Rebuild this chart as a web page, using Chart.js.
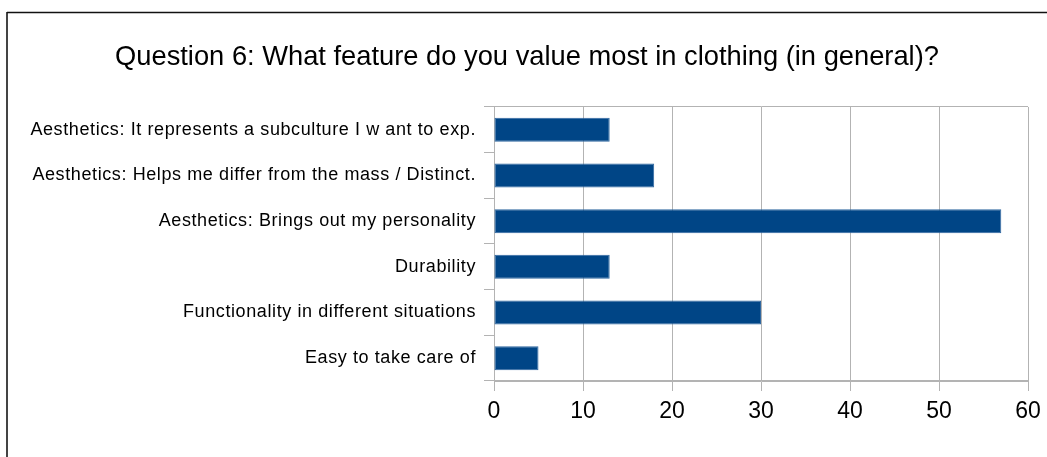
<!DOCTYPE html>
<html>
<head>
<meta charset="utf-8">
<script src="https://cdn.jsdelivr.net/npm/chart.js@4.4.1/dist/chart.umd.min.js"></script>
<style>
  html, body { margin: 0; padding: 0; background: #fff; }
  canvas { display: block; }
</style>
</head>
<body>
<canvas id="chart" width="1047" height="457"></canvas>
<script>
const categories = [
  'Aesthetics: It represents a subculture I w ant to exp.',
  'Aesthetics: Helps me differ from the mass / Distinct.',
  'Aesthetics: Brings out my personality',
  'Durability',
  'Functionality in different situations',
  'Easy to take care of'
]
const counts = [13, 18, 57, 13, 30, 5]
const xTicks = [0, 10, 20, 30, 40, 50, 60]

const FONT = '"Liberation Sans", Arial, sans-serif'
const GRID = '#b3b3b3'

// thin frame on the left and top edges of the page
const frame = {
  id: 'frame',
  afterDraw(chart) {
    const c = chart.ctx
    c.save()
    c.strokeStyle = '#444'
    c.lineWidth = 2
    c.beginPath()
    c.moveTo(7, 12)
    c.lineTo(7, chart.height)
    c.stroke()
    c.strokeStyle = '#111'
    c.lineWidth = 1.5
    c.beginPath()
    c.moveTo(7, 12.5)
    c.lineTo(chart.width, 12.5)
    c.stroke()
    c.restore()
  }
}

// category labels are drawn slightly letter-spaced
const labelSpacing = {
  id: 'labelSpacing',
  beforeDraw(chart) {
    const y = chart.scales.y
    if (y._spaced) return
    const draw = y.drawLabels
    y.drawLabels = function (area) {
      this.ctx.save()
      this.ctx.letterSpacing = '0.6px'
      draw.call(this, area)
      this.ctx.restore()
    }
    y._spaced = true
  }
}

new Chart(document.getElementById('chart'), {
  type: 'bar',
  data: {
    labels: categories,
    datasets: [{
      data: counts,
      backgroundColor: '#004586',
      borderColor: '#2f67a0',
      borderWidth: 1,
      borderSkipped: false,
      barPercentage: 0.525,
      categoryPercentage: 1
    }]
  },
  options: {
    indexAxis: 'y',
    responsive: false,
    animation: false,
    devicePixelRatio: 1,
    layout: { padding: { left: 26, right: 19, top: 0, bottom: 0 } },
    plugins: {
      legend: { display: false },
      tooltip: { enabled: false },
      title: {
        display: true,
        text: 'Question 6: What feature do you value most in clothing (in general)?',
        color: '#000',
        font: { family: FONT, size: 27.3, weight: 'normal' },
        padding: { top: 41, bottom: 33.2 }
      }
    },
    scales: {
      x: {
        min: xTicks[0],
        max: xTicks[xTicks.length - 1],
        afterBuildTicks(scale) {
          scale.ticks = xTicks.map(v => ({ value: v }))
        },
        afterFit(scale) {
          scale.height = 76
          scale.paddingLeft = 0
          scale.paddingRight = 0
        },
        grid: { color: GRID, tickColor: GRID, tickLength: 10, lineWidth: 1 },
        border: { color: GRID },
        ticks: {
          color: '#000',
          padding: 7,
          font: { family: FONT, size: 23 }
        }
      },
      y: {
        afterFit(scale) {
          scale.width = 468
        },
        grid: {
          offset: true,
          // only the outer edges of the plot get a full line
          color: ctx => (ctx.index === 0 || ctx.index === undefined) ? GRID : 'rgba(0,0,0,0)',
          tickColor: GRID,
          tickLength: 10
        },
        border: { color: GRID },
        ticks: {
          color: '#000',
          padding: 8,
          font: { family: FONT, size: 18 }
        }
      }
    }
  },
  plugins: [frame, labelSpacing]
})
</script>
</body>
</html>
